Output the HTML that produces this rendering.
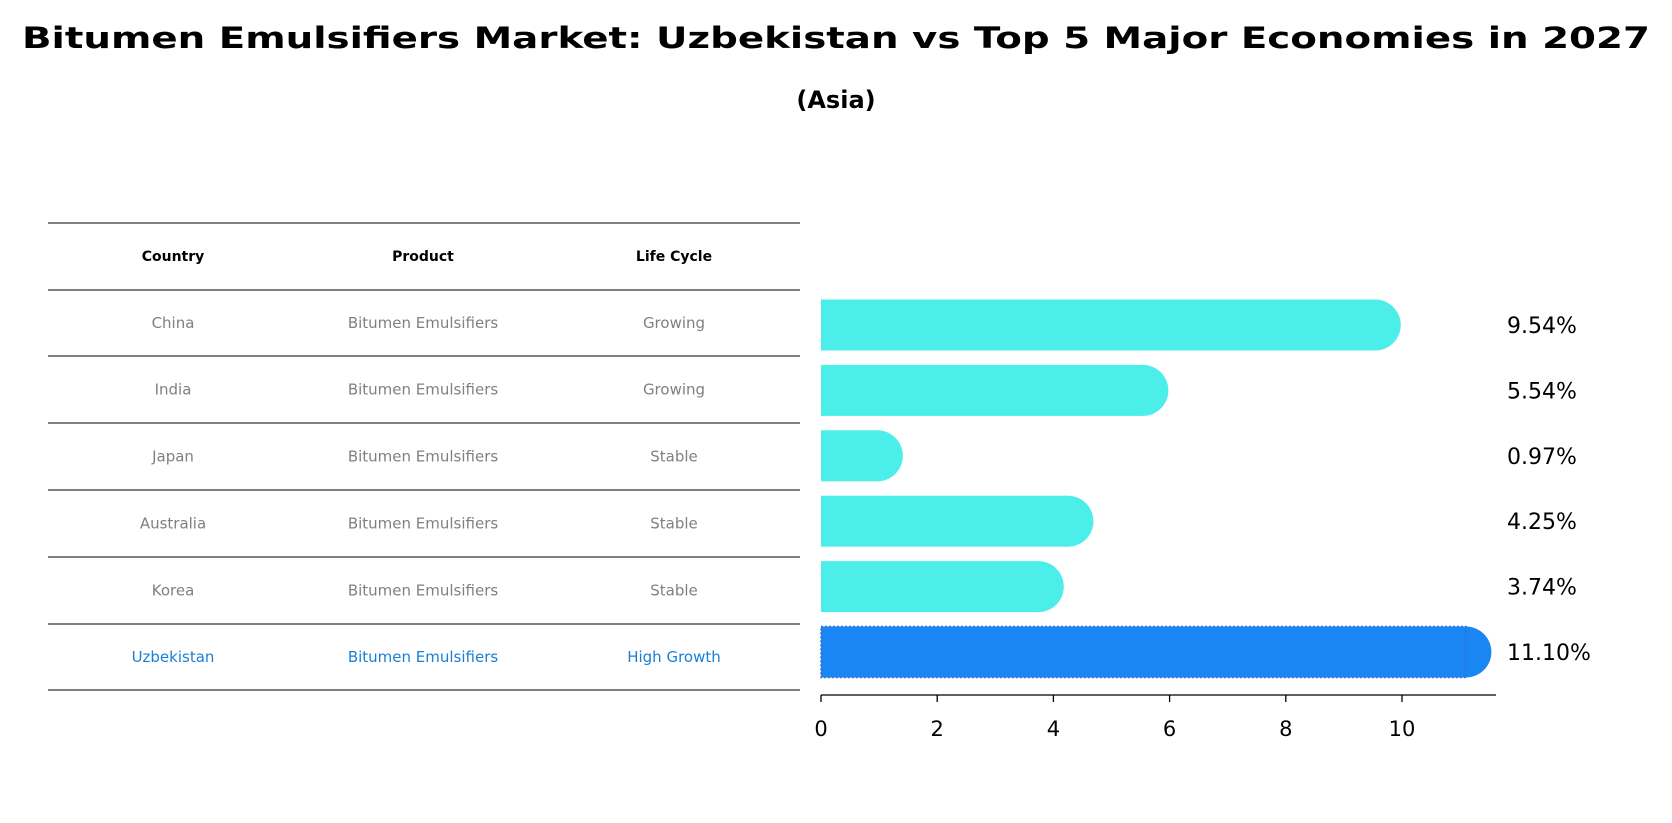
<!DOCTYPE html>
<html><head><meta charset="utf-8"><style>
body{margin:0;background:#fff;font-family:"DejaVu Sans","Liberation Sans",sans-serif;}
#wrap{position:relative;width:1672px;height:823px;overflow:hidden;}
</style></head><body>
<div id="wrap">
<svg id="svg" width="1672" height="823" style="position:absolute;left:0;top:0" font-family="DejaVu Sans, Liberation Sans, sans-serif">
<text x="836" y="48" text-anchor="middle" font-size="29" font-weight="bold" textLength="1628" lengthAdjust="spacingAndGlyphs">Bitumen Emulsifiers Market: Uzbekistan vs Top 5 Major Economies in 2027</text>
<text x="836" y="108" text-anchor="middle" font-size="24" font-weight="bold">(Asia)</text>
</svg>
</div>
<script>
const countries=["China","India","Japan","Australia","Korea","Uzbekistan"];
const products=["Bitumen Emulsifiers","Bitumen Emulsifiers","Bitumen Emulsifiers","Bitumen Emulsifiers","Bitumen Emulsifiers","Bitumen Emulsifiers"];
const lifecycle=["Growing","Growing","Stable","Stable","Stable","High Growth"];
const values=[9.54,5.54,0.97,4.25,3.74,11.10];
const ticks=[0,2,4,6,8,10];
const svg=document.getElementById('svg');const NS='http://www.w3.org/2000/svg';
function mk(t,a,p){const e=document.createElementNS(NS,t);for(const k in a)e.setAttribute(k,a[k]);(p||svg).appendChild(e);return e;}
const x=v=>821+v*58.1;
const rowY=i=>325+i*65.4;
const lines=[223,290,356,423,490,557,624,690];
lines.forEach(y=>{const l=mk('line',{x1:48,x2:800,y1:y,y2:y,stroke:'#000','stroke-width':1});

});
const cols=[173,423,674];
["Country","Product","Life Cycle"].forEach((h,j)=>{const t=mk('text',{x:cols[j],y:261,'text-anchor':'middle','font-size':14,'font-weight':'bold',fill:'#000'});t.textContent=h;

});
countries.forEach((c,i)=>{const cy=(lines[i+1]+lines[i+2])/2+5;const col=i==5?'#1a7fd4':'#808080';
[c,products[i],lifecycle[i]].forEach((s,j)=>{const t=mk('text',{x:cols[j],y:cy,'text-anchor':'middle','font-size':15,fill:col});t.textContent=s;

});});
const h=51;
values.forEach((v,i)=>{const cy=rowY(i);const col=i==5?'#1a86f4':'#4ceeea';
const g=mk('g',{});


mk('rect',{x:821,y:cy-h/2,width:x(v)-821,height:h,fill:col},g);
mk('circle',{cx:x(v),cy:cy,r:h/2,fill:col},g);
if(i==5)mk('rect',{x:821,y:cy-h/2,width:x(v)-821,height:h,fill:'none',stroke:'#3a6fd0','stroke-width':1.5,'stroke-dasharray':'2 2'},g);
const t=mk('text',{x:1507,y:cy+8,'font-size':22,fill:'#000'});t.textContent=v.toFixed(2)+'%';

});
const ax=mk('line',{x1:821,x2:1496,y1:695,y2:695,stroke:'#000','stroke-width':1.3});


ticks.forEach(v=>{mk('line',{x1:x(v),x2:x(v),y1:695,y2:702,stroke:'#000','stroke-width':1.3});
const t=mk('text',{x:x(v),y:736,'text-anchor':'middle','font-size':21,fill:'#000'});t.textContent=v;

});
</script>
</body></html>
